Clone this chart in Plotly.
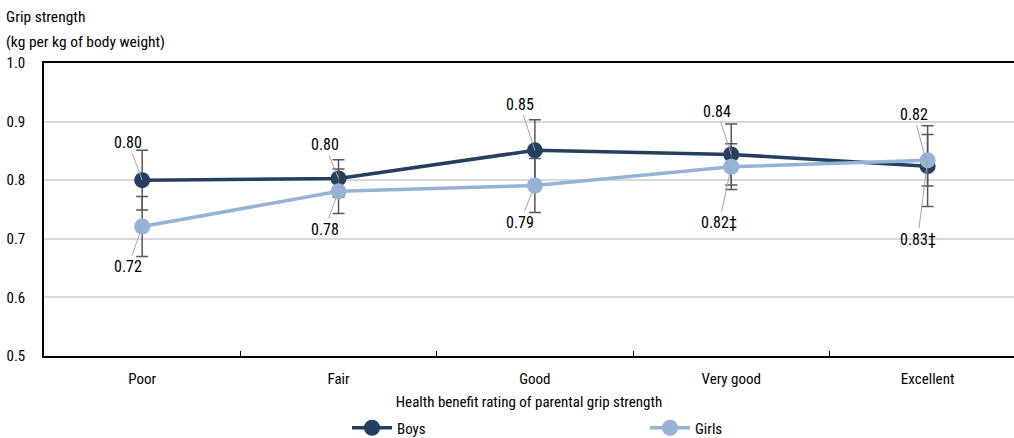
import plotly.graph_objects as go

categories = ["Poor", "Fair", "Good", "Very good", "Excellent"]
boys = [0.800, 0.803, 0.851, 0.844, 0.824]
girls = [0.721, 0.781, 0.791, 0.823, 0.834]
boys_err = [0.051, 0.032, 0.052, 0.052, 0.069]
girls_err = [0.051, 0.038, 0.046, 0.039, 0.044]
boys_labels = ["0.80", "0.80", "0.85", "0.84", "0.82"]
girls_labels = ["0.72", "0.78", "0.79", "0.82‡", "0.83‡"]
title_lines = ["Grip strength", "(kg per kg of body weight)"]

# label offsets (pixels) for leader-lined data labels
boys_off = [(-14, -38), (-14, -34), (-15, -46), (-14, -43), (-14, -52)]
girls_off = [(-14, 40), (-14, 38), (-15, 37), (-12, 56), (-10, 79)]

FONT = "Roboto Condensed, Liberation Sans, sans-serif"
BOYS_C = "#243f60"
GIRLS_C = "#95b3d7"
ERR_C = "#595959"

L, T, B = 44, 63, 82
W, H = 1014, 438
PW, PH = W - L, H - T - B

fig = go.Figure()
fig.add_trace(go.Scatter(
    x=categories, y=boys, name="Boys", mode="lines+markers",
    line=dict(color=BOYS_C, width=3.5),
    marker=dict(color=BOYS_C, size=16),
    error_y=dict(type="data", array=boys_err, color=ERR_C, thickness=1.5, width=6),
))
fig.add_trace(go.Scatter(
    x=categories, y=girls, name="Girls", mode="lines+markers",
    line=dict(color=GIRLS_C, width=3.5),
    marker=dict(color=GIRLS_C, size=16),
    error_y=dict(type="data", array=girls_err, color=ERR_C, thickness=1.5, width=6),
))

annotations = []
for cat, val, lab, (ax, ay) in zip(categories, boys, boys_labels, boys_off):
    annotations.append(dict(x=cat, y=val, text=lab, showarrow=True, arrowhead=0,
                            arrowwidth=1, arrowcolor="#a6a6a6", ax=ax, ay=ay,
                            standoff=0, font=dict(family=FONT, size=16, color="#000")))
for cat, val, lab, (ax, ay) in zip(categories, girls, girls_labels, girls_off):
    annotations.append(dict(x=cat, y=val, text=lab, showarrow=True, arrowhead=0,
                            arrowwidth=1, arrowcolor="#a6a6a6", ax=ax, ay=ay,
                            standoff=0, font=dict(family=FONT, size=16, color="#000")))

for line, ypx in zip(title_lines, [17, 42]):
    annotations.append(dict(xref="paper", yref="paper", x=(4 - L) / PW,
                            y=(T + PH - ypx) / PH, xanchor="left", yanchor="middle",
                            showarrow=False, text=line,
                            font=dict(family=FONT, size=15.5, color="#000")))

fig.update_layout(
    width=W, height=H,
    margin=dict(l=L, r=0, t=T, b=B, autoexpand=False),
    paper_bgcolor="white", plot_bgcolor="white",
    font=dict(family=FONT, size=15, color="#000"),
    annotations=annotations,
    showlegend=True,
    legend=dict(orientation="h", xref="container", yref="container",
                x=347 / W, xanchor="left",
                y=(H - 428) / H, yanchor="middle",
                entrywidth=243, entrywidthmode="pixels",
                font=dict(family=FONT, size=15, color="#000"),
                itemwidth=40, bgcolor="rgba(0,0,0,0)"),
    xaxis=dict(
        type="category", categoryorder="array", categoryarray=categories,
        range=[-0.5, 4.44], automargin=False,
        showline=True, linecolor="#000", linewidth=1.5, mirror=True,
        ticks="inside", tickson="boundaries", ticklen=5, tickcolor="#000", tickwidth=1,
        showgrid=False,
        title=dict(text="Health benefit rating of parental grip strength",
                   font=dict(family=FONT, size=15), standoff=10),
        ticklabelstandoff=8,
    ),
    yaxis=dict(
        range=[0.5, 1.0], dtick=0.1, tickformat=".1f", automargin=False,
        showline=True, linecolor="#000", linewidth=1.5,
        gridcolor="#d9d9d9", gridwidth=1.5,
        ticks="", ticklabelstandoff=14,
        zeroline=False,
    ),
)

fig.write_html("out.html", config={"displayModeBar": False},
               post_script="document.body.style.margin='0';document.body.style.overflow='hidden';")
